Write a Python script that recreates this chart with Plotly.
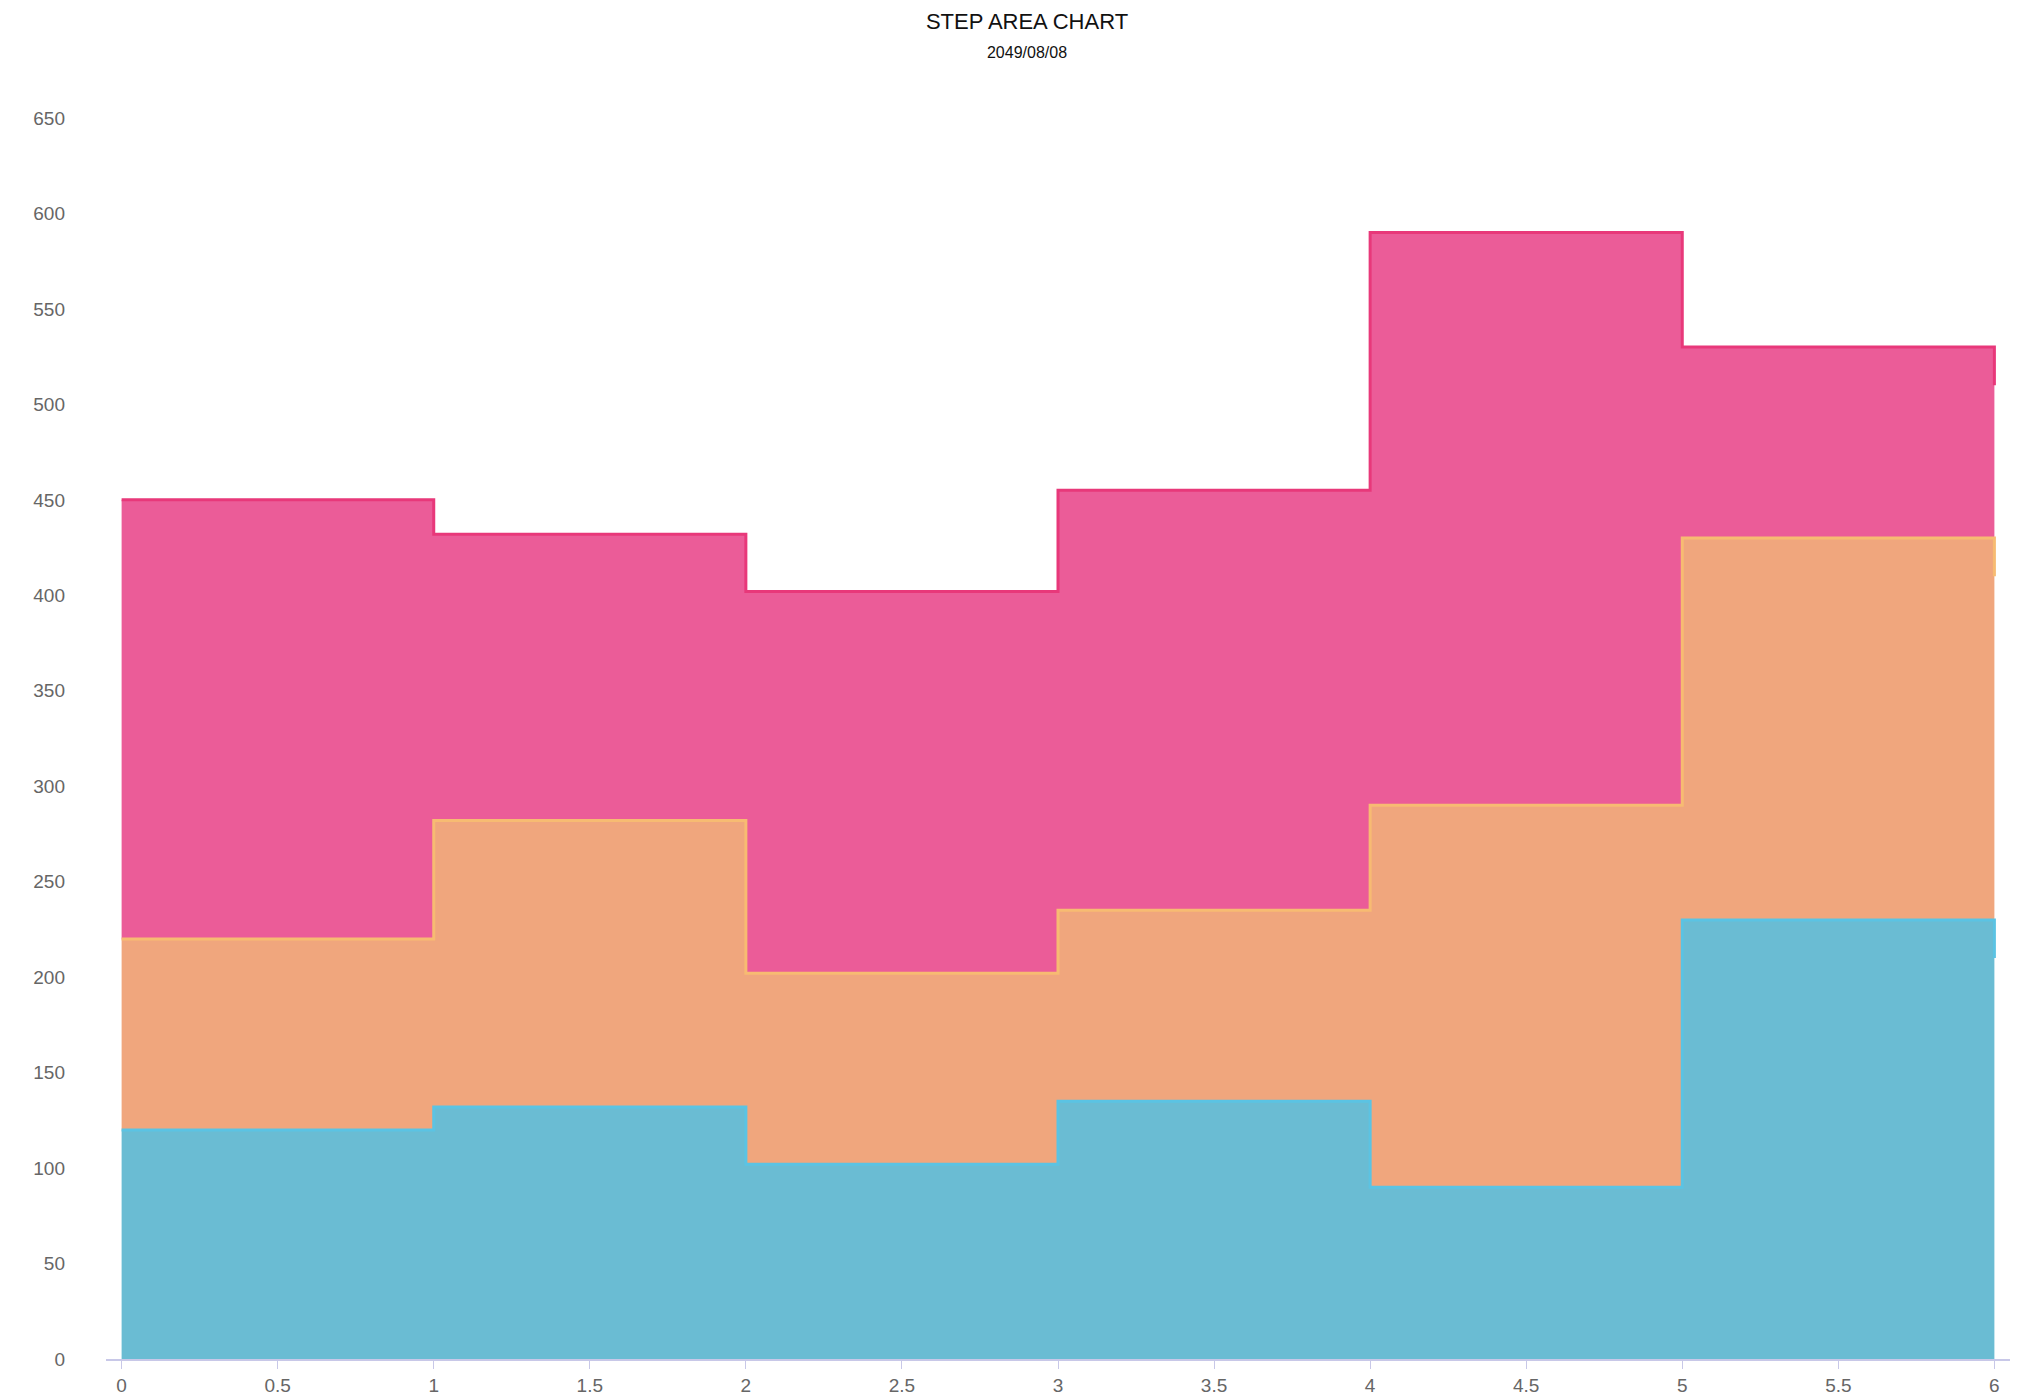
import plotly.graph_objects as go

# data (stacked increments)
x_vals = [0, 1, 2, 3, 4, 5, 6]
series_names = ["Series A", "Series B", "Series C"]
series_a = [120, 132, 102, 135, 90, 230, 210]
series_b = [100, 150, 100, 100, 200, 200, 200]
series_c = [230, 150, 200, 220, 300, 100, 100]
y_ticks = list(range(0, 651, 50))
x_ticks = [0, 0.5, 1, 1.5, 2, 2.5, 3, 3.5, 4, 4.5, 5, 5.5, 6]

fills = ["#6abcd3", "#f0a67d", "#eb5c98"]
lines = ["#5bc3e3", "#f7bb72", "#e8387a"]

fig = go.Figure()
for name, vals, fc, lc in zip(series_names, [series_a, series_b, series_c], fills, lines):
    fig.add_trace(go.Scatter(x=x_vals, y=vals, name=name, stackgroup="one",
                             line=dict(shape="hv", color=lc, width=3),
                             fillcolor=fc, mode="lines"))

fig.update_xaxes(range=[-0.05, 6.05], tickvals=x_ticks, showgrid=False, zeroline=False,
                 showline=True, linecolor="#c8c8e8", linewidth=1.5, ticks="outside",
                 tickcolor="#c8c8e8", ticklen=8, tickfont=dict(size=19, color="#666"))
fig.update_yaxes(range=[0, 650], tickvals=y_ticks, showgrid=False, zeroline=False,
                 showline=False, ticklabelstandoff=40, tickfont=dict(size=19, color="#666"))
fig.update_layout(
    width=2038, height=1400, plot_bgcolor="white", paper_bgcolor="white",
    showlegend=False, font=dict(family="Liberation Sans, Arial, sans-serif"),
    title=dict(text="STEP AREA CHART<br><span style='font-size:16px'>2049/08/08</span>",
               x=0.5, xanchor="center", y=0.985, yanchor="top",
               font=dict(size=22, color="#111")),
    margin=dict(l=98, r=36, t=110, b=45),
)
fig.write_html("out.html")
